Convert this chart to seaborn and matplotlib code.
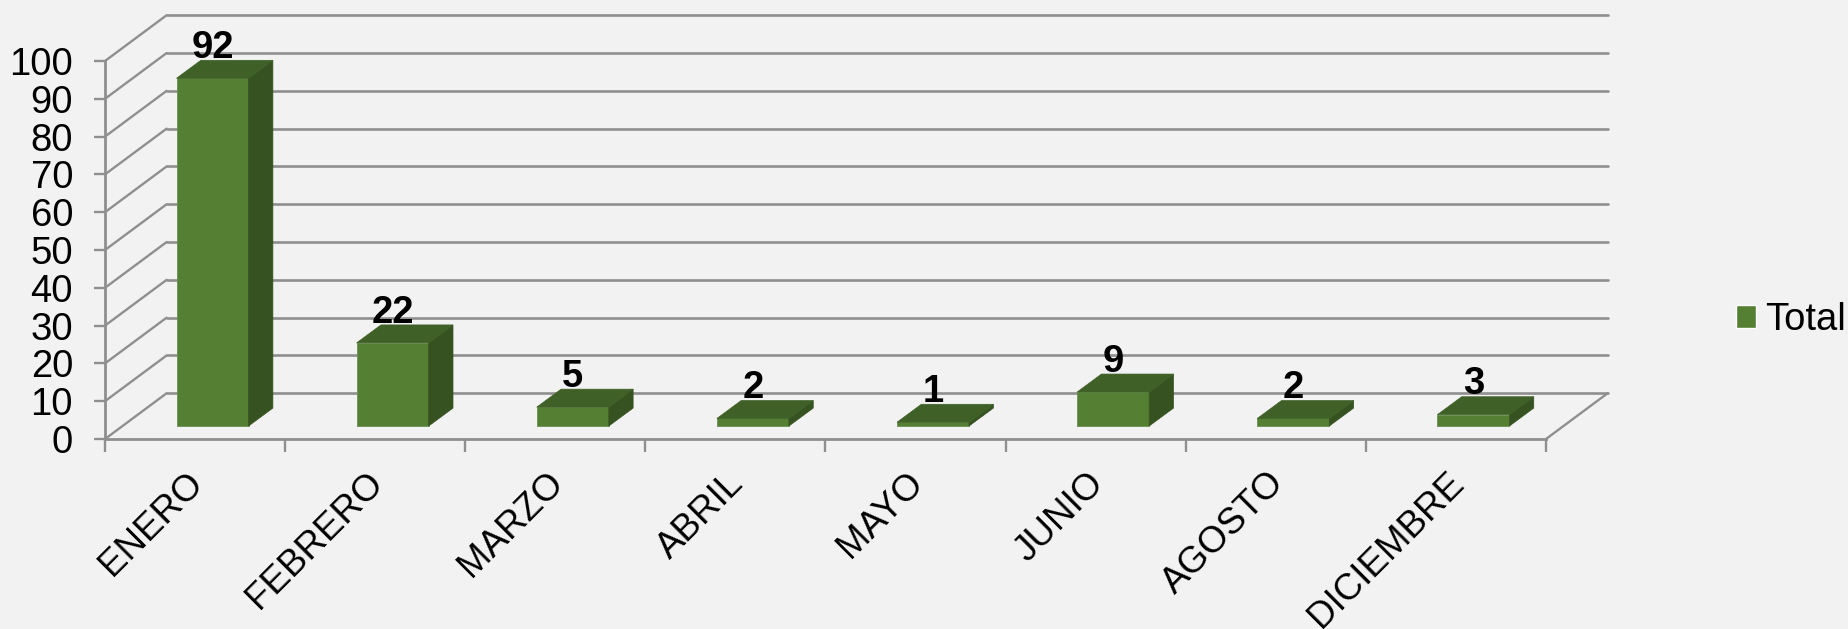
import matplotlib
matplotlib.use("Agg")
import matplotlib.pyplot as plt
import matplotlib.transforms as mtransforms
from matplotlib.patches import Polygon
import numpy as np
import pandas as pd
import seaborn as sns

months = ["ENERO", "FEBRERO", "MARZO", "ABRIL", "MAYO", "JUNIO", "AGOSTO", "DICIEMBRE"]
totals = [92, 22, 5, 2, 1, 9, 2, 3]
y_ticks = list(range(0, 101, 10))

bg, grid = "#f2f2f2", "#8f8f8f"
front, top, side = "#558033", "#3f6027", "#365220"
fs = 27.5

# fake 3d: depth vectors in data units (categories, value)
wall_dx, wall_dy = 0.342, 12.1
off_dx, off_dy = 0.097, 3.43
bar_dx, bar_dy = 0.135, 4.75

sns.set_theme(style="white", rc={"axes.facecolor": bg, "figure.facecolor": bg})
plt.rcParams["font.family"] = ["Liberation Sans", "DejaVu Sans"]

fig = plt.figure(figsize=(18.49, 6.29), dpi=100)
ax = fig.add_axes([105 / 1849, 1 - 439 / 629, 1441 / 1849, 378 / 629])
ax.patch.set_alpha(0)

df = pd.DataFrame({"mes": months, "total": totals})
sns.barplot(data=df, x="mes", y="total", color=front, saturation=1, width=0.4, ax=ax,
            label="Total", edgecolor="#6a9150", linewidth=0.6, zorder=3, legend=False)
ax.set_xlim(-0.5, len(months) - 0.5)
ax.set_ylim(0, 100)
ax.set_xlabel("")
ax.set_ylabel("")

# walls and floor
xl, xr = -0.5, len(months) - 0.5
for v in y_ticks:
    ax.plot([xl, xl + wall_dx], [v, v + wall_dy], color=grid, lw=1.7, clip_on=False, zorder=1)
    ax.plot([xl + wall_dx, xr + wall_dx], [v + wall_dy, v + wall_dy], color=grid, lw=1.9, clip_on=False, zorder=1)
ax.plot([xr, xr + wall_dx], [0, wall_dy], color=grid, lw=1.7, clip_on=False, zorder=1)

# side and top faces from the bars seaborn drew
shift = mtransforms.Affine2D().translate(off_dx, off_dy) + ax.transData
for bar, val in zip(ax.patches, totals):
    x0, x1 = bar.get_x(), bar.get_x() + bar.get_width()
    h = bar.get_height()
    bar.set_transform(shift)
    ax.add_patch(Polygon([(x1, 0), (x1 + bar_dx, bar_dy), (x1 + bar_dx, h + bar_dy), (x1, h)],
                         facecolor=side, edgecolor=side, lw=0.5, transform=shift, clip_on=False, zorder=3))
    ax.add_patch(Polygon([(x0, h), (x1, h), (x1 + bar_dx, h + bar_dy), (x0 + bar_dx, h + bar_dy)],
                         facecolor=top, edgecolor=top, lw=0.5, transform=shift, clip_on=False, zorder=3))
    ax.text((x0 + x1) / 2 + off_dx, h + off_dy + bar_dy + 0.6, str(val), ha="center", va="baseline",
            fontsize=fs, fontweight="bold", color="black", zorder=4, clip_on=False)

sns.despine(ax=ax, top=True, right=True)
for s in ["left", "bottom"]:
    ax.spines[s].set_color(grid)
    ax.spines[s].set_linewidth(2.0)

ax.set_yticks(y_ticks)
ax.tick_params(axis="y", length=8, width=1.7, color=grid, pad=15, labelsize=fs, labelcolor="black", left=True)
ax.set_xticks(np.arange(-0.5, len(months)), minor=True)
ax.tick_params(axis="x", which="minor", length=9, width=1.7, color=grid, bottom=True)
ax.tick_params(axis="x", which="major", length=0, pad=28, labelsize=26.5, labelcolor="black")
ax.set_xticks(range(len(months)))
ax.set_xticklabels(months, rotation=45, ha="right", va="center", rotation_mode="anchor")
nudge = mtransforms.ScaledTranslation(2 / 72, 0, fig.dpi_scale_trans)
for lab in ax.get_xticklabels():
    lab.set_transform(lab.get_transform() + nudge)

handles = [plt.Rectangle((0, 0), 1, 1, facecolor=front)]
ax.legend(handles, ["Total"], loc="center left", bbox_to_anchor=(1736 / 1849, 1 - 320 / 629),
          bbox_transform=fig.transFigure, frameon=False, fontsize=fs, labelcolor="black", borderpad=0,
          borderaxespad=0, handlelength=0.52, handleheight=0.52, handletextpad=0.25)

fig.savefig("out.png", dpi=100, facecolor=bg)
